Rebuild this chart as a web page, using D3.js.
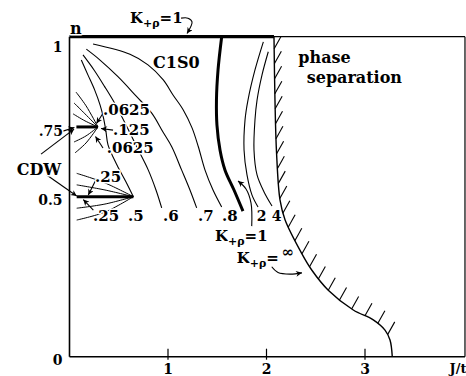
<!DOCTYPE html>
<html><head><meta charset="utf-8">
<script src="https://cdn.jsdelivr.net/npm/d3@7"></script>
<style>
html,body{margin:0;padding:0;background:#fff;}
svg text{font-family:"DejaVu Serif",serif;font-weight:bold;fill:#000;}
.halo{stroke:#fff;stroke-width:3px;paint-order:stroke;stroke-linejoin:round;}
</style></head><body>
<svg id="chart" width="466" height="376"></svg>
<script>
// Axis ticks
const xTicks = [1, 2, 3];
const yTicks = [0, 0.5, 1];
const yTickLabels = ["0", "0.5", "1"];

// Contours of constant K_rho, each a list of [J/t, n]
const contour05 = [[0.120,0.927],[0.188,0.880],[0.256,0.833],[0.310,0.787],[0.345,0.746],[0.371,0.702],[0.391,0.662],[0.482,0.599],[0.574,0.546],[0.648,0.500]];
const contour06 = [[0.137,0.943],[0.249,0.896],[0.357,0.844],[0.459,0.792],[0.574,0.724],[0.682,0.656],[0.800,0.583],[0.878,0.521],[0.936,0.465]];
const contour07 = [[0.171,0.961],[0.310,0.927],[0.492,0.875],[0.675,0.815],[0.835,0.761],[0.949,0.702],[1.038,0.656],[1.139,0.583],[1.223,0.521],[1.291,0.465]];
const contour08 = [[0.239,0.977],[0.614,0.945],[0.797,0.912],[0.952,0.865],[1.051,0.818],[1.155,0.771],[1.244,0.715],[1.308,0.656],[1.376,0.583],[1.457,0.521],[1.545,0.468]];
const contour1  = [[1.545,1.000],[1.508,0.896],[1.492,0.802],[1.497,0.724],[1.528,0.646],[1.579,0.583],[1.670,0.521],[1.761,0.455]];
const contour2  = [[1.968,0.984],[1.883,0.896],[1.812,0.802],[1.782,0.740],[1.772,0.646],[1.802,0.568],[1.853,0.505],[1.914,0.468]];
const contour4  = [[2.018,0.953],[1.954,0.880],[1.904,0.802],[1.883,0.740],[1.873,0.646],[1.904,0.568],[1.975,0.515],[2.056,0.471]];

// Phase-separation boundary (K_rho = infinity)
const phaseBoundary = [[2.076,1.000],[2.086,0.802],[2.102,0.637],[2.137,0.490],[2.188,0.428],[2.357,0.323],[2.459,0.271],[2.627,0.208],[2.881,0.146],[3.084,0.115],[3.203,0.083],[3.254,0.052],[3.277,0.000]];

// C1S0 region along n = 1 (K_rho = 1)
const nHalfFilled = [[0, 1], [2.076, 1]];

// CDW segments and the contours that meet at their ends
const cdwQuarter = [[0.070,0.718],[0.289,0.718]];
const cdwHalf = [[0.073,0.500],[0.648,0.500]];
const fanQuarter = [
  [[0.066,0.827],[0.168,0.784],[0.289,0.718]],
  [[0.046,0.793],[0.157,0.759],[0.289,0.718]],
  [[0.036,0.759],[0.157,0.737],[0.289,0.718]],
  [[0.046,0.671],[0.168,0.690],[0.289,0.718]],
  [[0.056,0.637],[0.168,0.668],[0.289,0.718]]
];
const fanHalf = [
  [[0.073,0.573],[0.360,0.543],[0.648,0.500]],
  [[0.073,0.537],[0.360,0.521],[0.648,0.500]],
  [[0.073,0.464],[0.360,0.477],[0.648,0.500]],
  [[0.073,0.427],[0.360,0.452],[0.648,0.500]]
];

// Annotation arrows, in [J/t, n]
const arrows = [
  [[1.132,1.058],[1.203,1.058],[1.244,1.046],[1.193,1.010]],
  [[-0.289,0.633],[0.046,0.711]],
  [[-0.066,0.705],[0.050,0.716]],
  [[-0.231,0.568],[0.073,0.502]],
  [[0.340,0.761],[0.274,0.729]],
  [[0.442,0.708],[0.320,0.713]],
  [[0.340,0.652],[0.264,0.688]],
  [[0.276,0.558],[0.191,0.505]],
  [[0.242,0.458],[0.140,0.491]],
  [[1.850,0.408],[1.843,0.480],[1.792,0.524],[1.711,0.549]],
  [[2.053,0.281],[2.117,0.263],[2.239,0.258],[2.360,0.262]]
];

// Text labels: [J/t, n, text, size, anchor]
const labels = [
  [0.005, 1.008, "n", 16, "start"],
  [0.848, 0.902, "C1S0", 16, "start"],
  [2.323, 0.919, "phase", 16, "start"],
  [2.408, 0.854, "separation", 16, "start"],
  [0.340, 0.755, ".0625", 15, "start"],
  [0.442, 0.693, ".125", 15, "start"],
  [0.378, 0.637, ".0625", 15, "start"],
  [-0.066, 0.690, ".75", 14, "end"],
  [-0.536, 0.568, "CDW", 16, "start"],
  [0.259, 0.546, ".25", 15, "start"],
  [0.239, 0.424, ".25", 15, "start"],
  [0.594, 0.424, ".5", 15, "start"],
  [0.949, 0.424, ".6", 15, "start"],
  [1.305, 0.424, ".7", 15, "start"],
  [1.548, 0.424, ".8", 15, "start"],
  [1.901, 0.424, "2", 14, "start"],
  [2.053, 0.424, "4", 14, "start"],
  [4.03, -0.051, "J/t", 13, "end"]
];
// K_rho labels: [J/t, n, value]
const kLabels = [
  [0.614, 1.044, "1"],
  [1.477, 0.362, "1"],
  [1.697, 0.293, "\u221e"]
];

const svg = d3.select("#chart");
svg.append("rect").attr("width", 466).attr("height", 376).attr("fill", "#fff");

const x = d3.scaleLinear().domain([0, 4]).range([69.5, 463.5]);
const y = d3.scaleLinear().domain([0, 1]).range([356.7, 36.7]);
const xEdge = 4.015;

const line = d3.line().x(d => x(d[0])).y(d => y(d[1])).curve(d3.curveCatmullRom.alpha(0.5));
const straight = d3.line().x(d => x(d[0])).y(d => y(d[1]));

const defs = svg.append("defs");
defs.append("marker").attr("id", "head")
  .attr("viewBox", "0 0 10 10").attr("refX", 10).attr("refY", 5)
  .attr("markerUnits", "userSpaceOnUse").attr("markerWidth", 7).attr("markerHeight", 6)
  .attr("orient", "auto")
  .append("path").attr("d", "M0,0L10,5L0,10L3,5Z").attr("fill", "#000");

// Frame
const frame = svg.append("g").attr("stroke", "#000").attr("fill", "none");
frame.append("line").attr("x1", x(0)).attr("x2", x(0)).attr("y1", y(0)).attr("y2", y(1)).attr("stroke-width", 1.6);
frame.append("line").attr("x1", x(0)).attr("x2", x(xEdge)).attr("y1", y(0)).attr("y2", y(0)).attr("stroke-width", 1.6);
frame.append("line").attr("x1", x(nHalfFilled[1][0])).attr("x2", x(xEdge)).attr("y1", y(1)).attr("y2", y(1)).attr("stroke-width", 1.2);
frame.append("line").attr("x1", x(xEdge)).attr("x2", x(xEdge)).attr("y1", y(1)).attr("y2", y(0)).attr("stroke-width", 1.2);
frame.append("path").attr("d", straight(nHalfFilled)).attr("stroke-width", 3.2);

// X ticks and labels
frame.selectAll("line.tick").data(xTicks).join("line").attr("class", "tick")
  .attr("x1", d => x(d)).attr("x2", d => x(d))
  .attr("y1", y(0) - 8).attr("y2", y(0) + 3).attr("stroke-width", 1.2);
svg.selectAll("text.xt").data(xTicks).join("text").attr("class", "xt")
  .attr("x", d => x(d)).attr("y", y(0) + 17).attr("text-anchor", "middle")
  .attr("font-size", 14).text(d => d);
svg.selectAll("text.yt").data(yTicks).join("text").attr("class", "yt")
  .attr("x", x(0) - 7).attr("y", d => y(d) + (d === 1 ? 15 : 8)).attr("text-anchor", "end")
  .attr("font-size", 14).text((d, i) => yTickLabels[i]);

// Contours
const lines = svg.append("g").attr("fill", "none").attr("stroke", "#000");
[contour05, contour06, contour07, contour08, contour2, contour4].forEach(c =>
  lines.append("path").attr("d", line(c)).attr("stroke-width", 1.1));
lines.append("path").attr("d", line(contour1)).attr("stroke-width", 3);
fanQuarter.concat(fanHalf).forEach(c =>
  lines.append("path").attr("d", line(c)).attr("stroke-width", 1));
lines.append("path").attr("d", straight(cdwQuarter)).attr("stroke-width", 3);
lines.append("path").attr("d", straight(cdwHalf)).attr("stroke-width", 3);

// Phase boundary with hatching on the phase-separated side
const boundary = lines.append("path").attr("d", line(phaseBoundary)).attr("stroke-width", 1.4);
const node = boundary.node();
const total = node.getTotalLength();
for (let s = 12; s < total - 16; s += 15) {
  const p = node.getPointAtLength(s);
  lines.append("line").attr("x1", p.x).attr("y1", p.y)
    .attr("x2", p.x + 7).attr("y2", p.y - 12.5).attr("stroke-width", 1.1);
}

// Arrows
arrows.forEach(a =>
  lines.append("path").attr("d", a.length > 2 ? line(a) : straight(a))
    .attr("stroke-width", 1.1).attr("marker-end", "url(#head)"));

// Labels
svg.selectAll("text.lab").data(labels).join("text").attr("class", "lab halo")
  .attr("x", d => x(d[0])).attr("y", d => y(d[1]))
  .attr("font-size", d => d[3]).attr("text-anchor", d => d[4]).text(d => d[2]);

kLabels.forEach(k => {
  const t = svg.append("text").attr("class", "halo").attr("x", x(k[0])).attr("y", y(k[1])).attr("font-size", 15);
  t.append("tspan").text("K");
  t.append("tspan").attr("font-size", 11).attr("dy", 4).text("+\u03c1");
  if (k[2] === "\u221e") {
    t.append("tspan").attr("dy", -4).text("=");
    t.append("tspan").attr("dy", -6).attr("dx", 3).text(k[2]);
  } else {
    t.append("tspan").attr("dy", -4).text("=" + k[2]);
  }
});
</script>
</body></html>
